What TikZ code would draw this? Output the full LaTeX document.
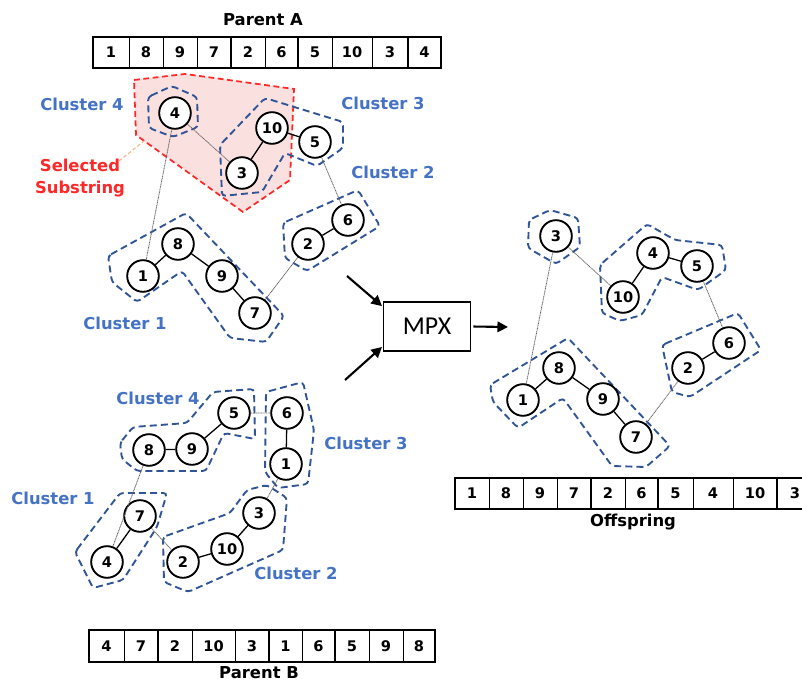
\documentclass[tikz,border=0pt]{standalone}
\usepackage{fontspec}
\setmainfont{DejaVu Sans}
\newfontfamily\mpxfont{Carlito}
\usetikzlibrary{arrows.meta}
\definecolor{clblue}{RGB}{47,85,151}
\definecolor{lblblue}{RGB}{68,114,196}
\definecolor{selred}{RGB}{255,40,40}
\definecolor{selfill}{RGB}{251,224,224}
\definecolor{leadcol}{RGB}{244,177,131}
\begin{document}
\begin{tikzpicture}[x=0.03cm,y=-0.03cm,
  city/.style={circle, draw=black, line width=1.6pt, fill=white, minimum size=27pt,
    inner sep=0pt, font=\bfseries\fontsize{12.5}{13}\selectfont},
  tie/.style={line width=1.1pt, black},
  hop/.style={line width=0.7pt, black!60, dash pattern=on 0.9pt off 0.5pt},
  cluster/.style={draw=clblue, line width=1.6pt, dash pattern=on 6pt off 3.5pt, rounded corners=3pt},
  selzone/.style={draw=selred, fill=selfill, line width=1.5pt, dash pattern=on 5pt off 3pt},
  lbl/.style={text=lblblue, font=\bfseries\fontsize{14}{16}\selectfont},
  arr/.style={line width=1.8pt, -{Triangle[length=9pt,width=9pt]}},
  cellnum/.style={font=\bfseries\fontsize{12.5}{14}\selectfont, inner sep=0pt},
  rowtitle/.style={font=\bfseries\fontsize{14}{16}\selectfont},
  rowframe/.style={line width=2pt},
  thindiv/.style={line width=0.7pt},
  thickdiv/.style={line width=1.6pt}]
\useasboundingbox (0,0) rectangle (802,685);

% ---------- tour strings ----------
% Parent A
\node[rowtitle] (labA) at (263,20) {Parent A};
\draw[rowframe] (93,37) rectangle (441,68);
\foreach \x in {129,163,197,265,332,372} \draw[thindiv] (\x,37) -- (\x,68);
\foreach \x in {231,298,408} \draw[thickdiv] (\x,37) -- (\x,68);
\foreach \x/\t [count=\i] in {111/1,146/8,180/9,214/7,248/2,281.5/6,315/5,352/10,390/3,424.5/4}
  \node[cellnum] (pa\i) at (\x,52.5) {\t};

% Parent B
\node[rowtitle] (labB) at (259,673) {Parent B};
\draw[rowframe] (89,630) rectangle (435,662);
\foreach \x in {124,192,235,302,369,403} \draw[thindiv] (\x,630) -- (\x,662);
\foreach \x in {158,269,335} \draw[thickdiv] (\x,630) -- (\x,662);
\foreach \x/\t [count=\i] in {106.5/4,141/7,175/2,213.5/10,252/3,285.5/1,318.5/6,352/5,386/9,419/8}
  \node[cellnum] (pb\i) at (\x,646) {\t};

% Offspring
\node[rowtitle] (labO) at (633,522) {Offspring};
\draw[rowframe] (455,478) rectangle (822,509);
\foreach \x in {489,523,557,625,693,733} \draw[thindiv] (\x,478) -- (\x,509);
\foreach \x in {591,658,777} \draw[thickdiv] (\x,478) -- (\x,509);
\foreach \x/\t [count=\i] in {472/1,506/8,540/9,574/7,608/2,641.5/6,675.5/5,713/4,755/10,795/3}
  \node[cellnum] (po\i) at (\x,493.5) {\t};

% ---------- Parent A tour ----------
\draw[selzone] (134,80) -- (185,74) -- (294,89) -- (290,180) -- (243,212) -- (136,135) -- cycle;
\draw[cluster] (148,97) -- (172,86) -- (197,97) -- (198,127) -- (173,137) -- (149,128) -- cycle;
\draw[cluster] (220,145) -- (265,98) -- (343,122) -- (343,148) -- (317,166) -- (285,153) -- (262,192) -- (222,196) -- cycle;
\draw[cluster] (283,223) -- (358,190) -- (380,226) -- (307,271) -- (285,258) -- cycle;
\draw[cluster] (108,256) -- (186,213) -- (284,316) -- (266,342) -- (230,338) -- (182,271) -- (137,302) -- (112,282) -- cycle;

\node[city] (a4) at (175,113) {4};
\node[city] (a10) at (272,128) {10};
\node[city] (a5) at (315,142) {5};
\node[city] (a3) at (242,173) {3};
\node[city] (a8) at (178,244) {8};
\node[city] (a1) at (143,276) {1};
\node[city] (a9) at (222,276) {9};
\node[city] (a7) at (255,313) {7};
\node[city] (a2) at (308,244) {2};
\node[city] (a6) at (348,220) {6};

\draw[tie] (a1) -- (a8) (a8) -- (a9) (a9) -- (a7) (a2) -- (a6) (a5) -- (a10) (a10) -- (a3);
\draw[hop] (a7) -- (a2) (a6) -- (a5) (a3) -- (a4) (a4) -- (a1);

\node[lbl] (cA4) at (82,104) {Cluster 4};
\node[lbl] (cA3) at (383,103) {Cluster 3};
\node[lbl] (cA2) at (393,172) {Cluster 2};
\node[lbl] (cA1) at (125,323) {Cluster 1};
\node[text=selred, align=center, font=\bfseries\fontsize{14}{19.5}\selectfont] (selLbl) at (80,178) {Selected\\Substring};
\coordinate (leadA) at (119,161);
\coordinate (leadB) at (144,141);
\draw[leadcol, line width=0.9pt, dash pattern=on 3pt off 2pt] (leadA) -- (leadB);

% ---------- Parent B tour ----------
\draw[cluster] (120,443) -- (133,427) -- (187,423) -- (213,392) -- (254,389) -- (255,439) -- (224,433) -- (206,471) -- (137,471) -- (122,459) -- cycle;
\draw[cluster] (266,392) -- (303,382) -- (314,430) -- (308,484) -- (278,488) -- (265,472) -- cycle;
\draw[cluster] (75,552) -- (120,493) -- (167,493) -- (157,527) -- (123,580) -- (93,588) -- cycle;
\draw[cluster] (163,537) -- (230,513) -- (247,490) -- (267,485) -- (287,498) -- (283,550) -- (188,592) -- (164,582) -- cycle;

\node[city] (b5) at (234,413) {5};
\node[city] (b6) at (287,413) {6};
\node[city] (b8) at (149,450) {8};
\node[city] (b9) at (192,449) {9};
\node[city] (b1) at (286,464) {1};
\node[city] (b3) at (259,513) {3};
\node[city] (b7) at (140,516) {7};
\node[city] (b10) at (227,549) {10};
\node[city] (b4) at (107,562) {4};
\node[city] (b2) at (183,562) {2};

\draw[tie] (b4) -- (b7) (b2) -- (b10) (b10) -- (b3) (b1) -- (b6) (b5) -- (b9) (b9) -- (b8);
\draw[hop] (b7) -- (b2) (b3) -- (b1) (b6) -- (b5) (b8) -- (b4);

\node[lbl] (cB4) at (158,398) {Cluster 4};
\node[lbl] (cB3) at (366,443) {Cluster 3};
\node[lbl] (cB1) at (53,498) {Cluster 1};
\node[lbl] (cB2) at (296,573) {Cluster 2};

% ---------- crossover operator ----------
\node[draw, line width=1.3pt, minimum width=74pt, minimum height=42pt,
  font=\mpxfont\fontsize{22}{24}\selectfont] (mpx) at (427,326.5) {MPX};
\coordinate (inA) at (347,276);
\coordinate (inB) at (345,380);
\coordinate (outO) at (508,327);
\draw[arr, shorten >=1pt] (inA) -- (mpx.156);
\draw[arr, shorten >=1pt] (inB) -- (mpx.204);
\draw[arr, shorten <=2pt] (mpx.east) -- (outO);

% ---------- offspring tour ----------
\draw[cluster] (529,220) -- (550,210) -- (578,218) -- (580,247) -- (556,264) -- (528,248) -- cycle;
\draw[cluster] (600,265) -- (647,224) -- (675,240) -- (722,245) -- (726,270) -- (698,290) -- (662,277) -- (642,315) -- (620,321) -- (602,313) -- cycle;
\draw[cluster] (662,345) -- (738,313) -- (761,350) -- (690,397) -- (672,392) -- cycle;
\draw[cluster] (490,385) -- (568,338) -- (670,446) -- (646,467) -- (612,466) -- (563,398) -- (518,428) -- (493,402) -- cycle;

\node[city] (o3) at (556,236) {3};
\node[city] (o4) at (653,253) {4};
\node[city] (o5) at (697,266) {5};
\node[city] (o10) at (623,297) {10};
\node[city] (o6) at (729,343) {6};
\node[city] (o2) at (688,368) {2};
\node[city] (o8) at (559,368) {8};
\node[city] (o1) at (523,400) {1};
\node[city] (o9) at (603,399) {9};
\node[city] (o7) at (636,437) {7};

\draw[tie] (o1) -- (o8) (o8) -- (o9) (o9) -- (o7) (o2) -- (o6) (o5) -- (o4) (o4) -- (o10);
\draw[hop] (o7) -- (o2) (o6) -- (o5) (o10) -- (o3) (o3) -- (o1);
\end{tikzpicture}
\end{document}
